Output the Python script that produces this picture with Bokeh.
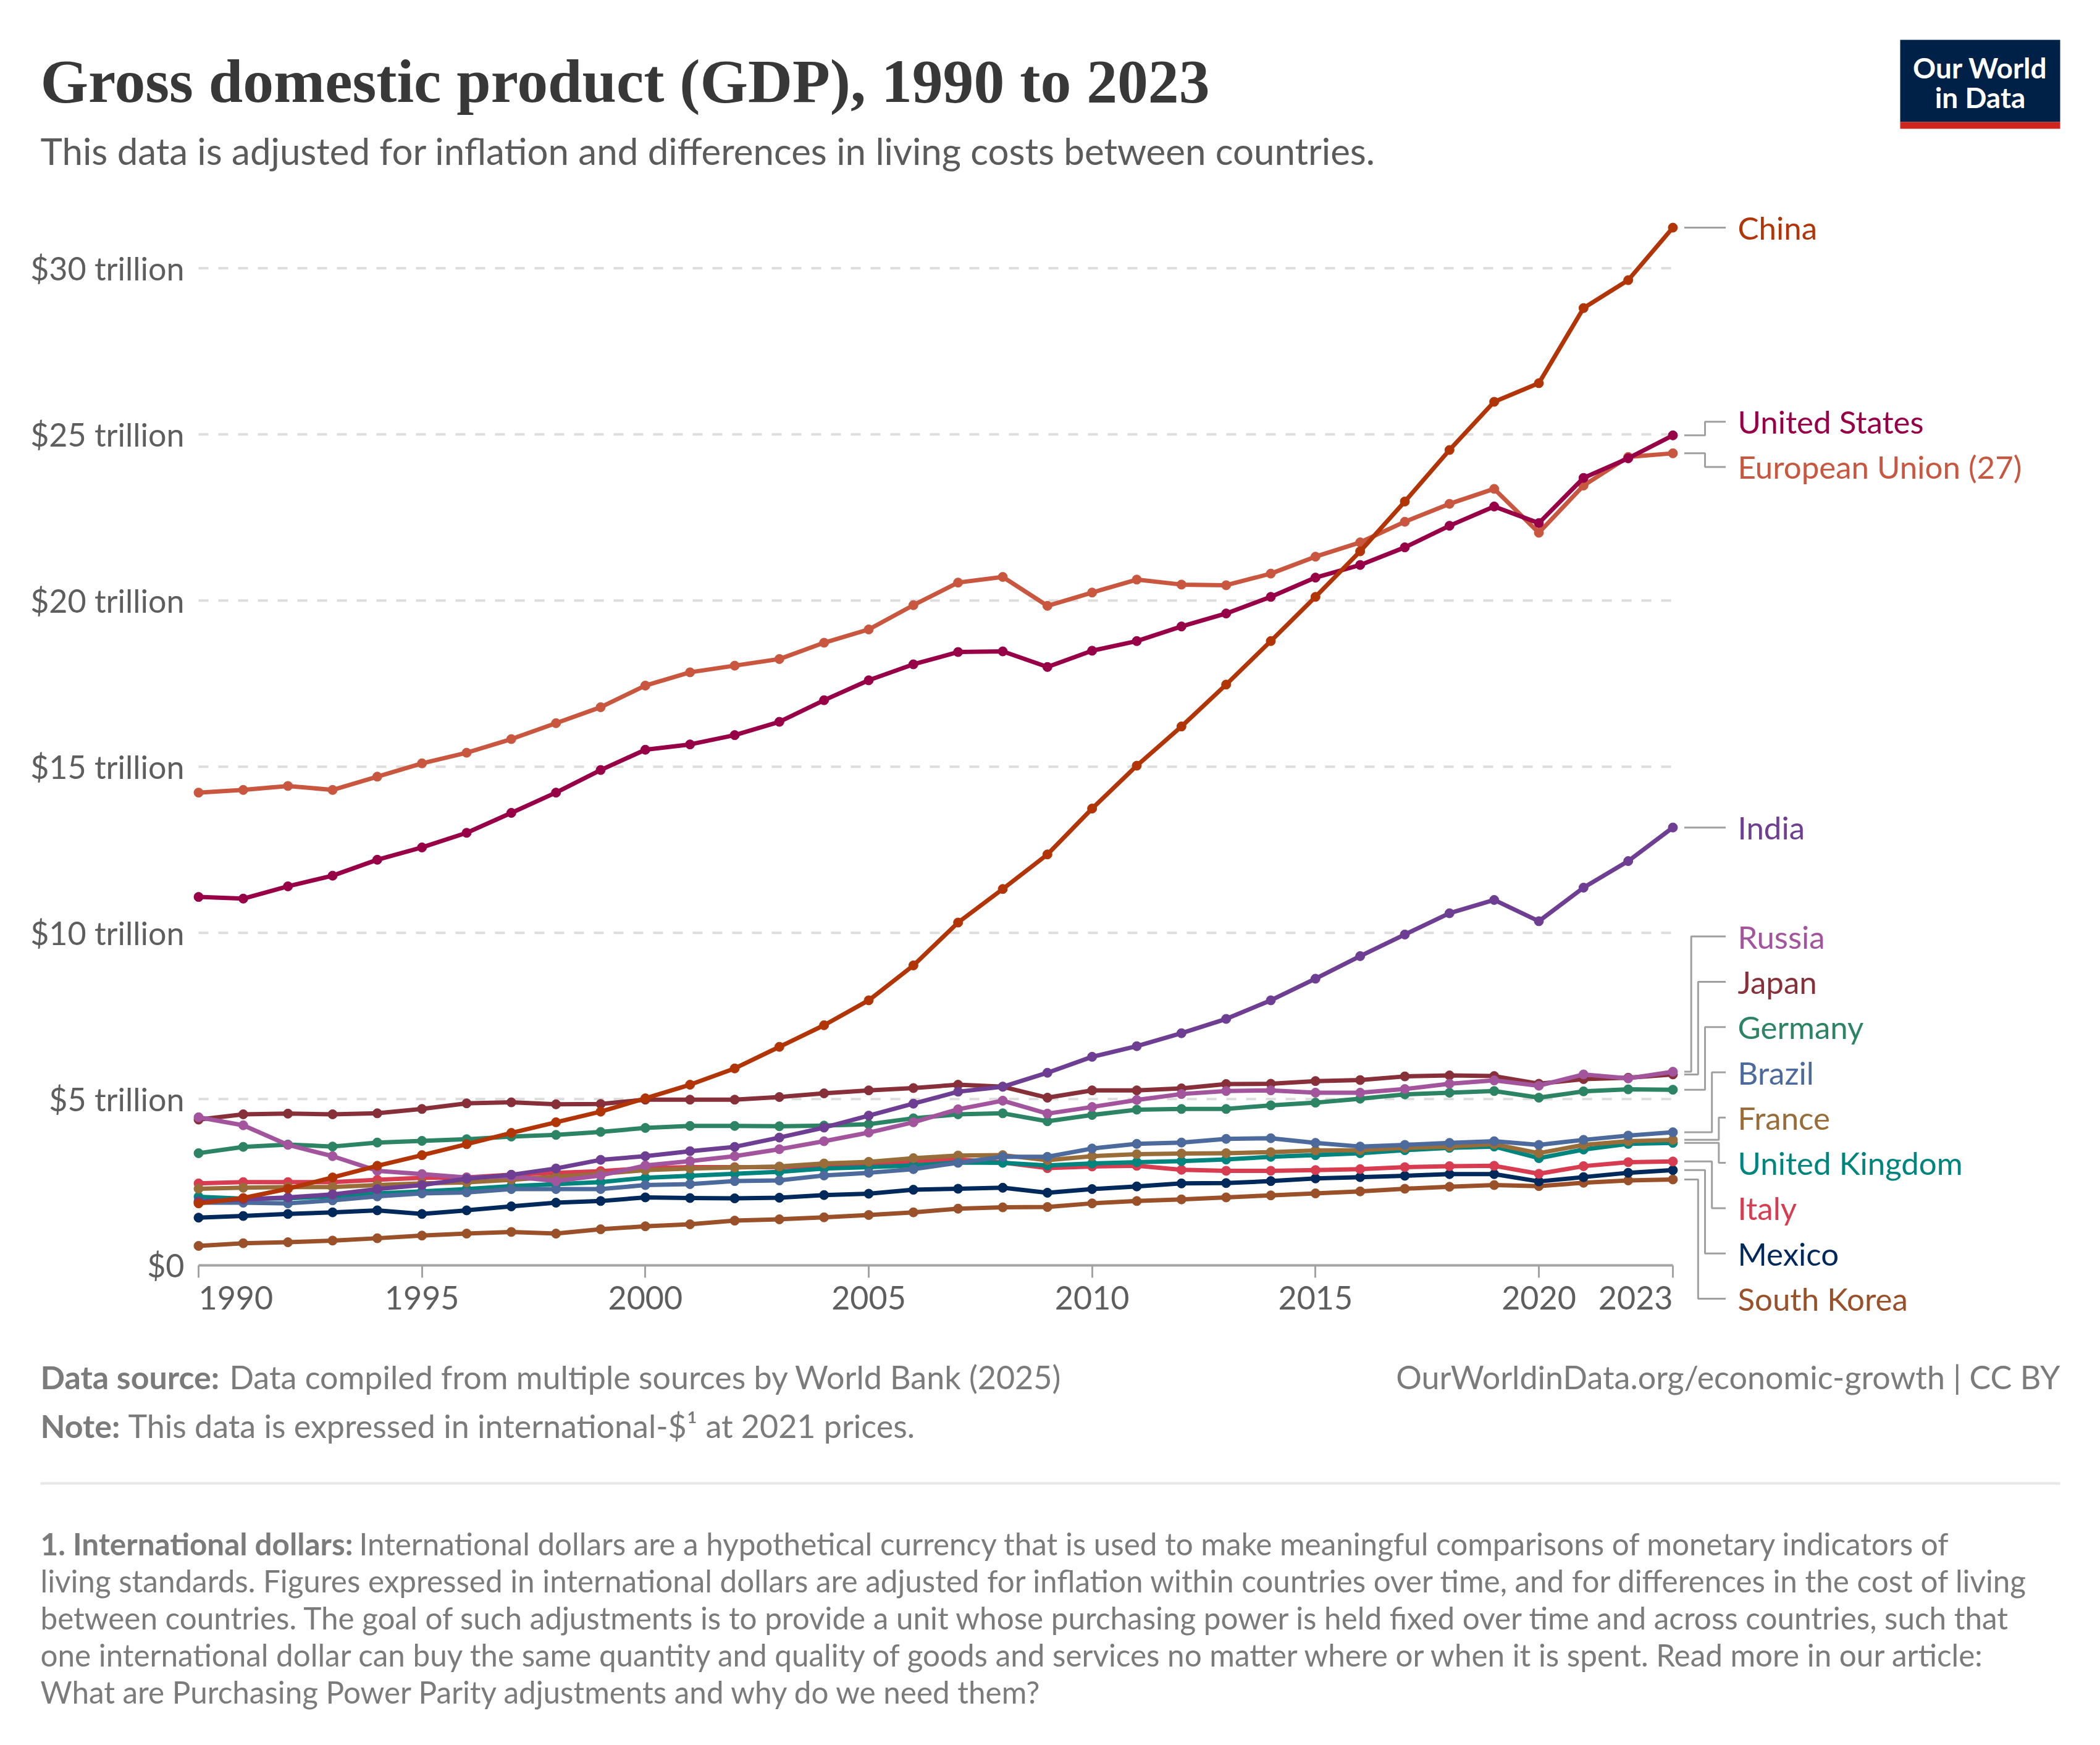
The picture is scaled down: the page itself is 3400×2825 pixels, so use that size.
from bokeh.plotting import figure
from bokeh.models import Range1d, FixedTicker, ColumnDataSource
from bokeh.core.properties import value
from bokeh.embed import file_html
from bokeh.resources import INLINE

# ---------------- data (trillion international-$, 2021 prices) ----------------
YEARS = list(range(1990, 2024))

CHINA = [1.86, 2.02, 2.30, 2.64, 2.99, 3.31, 3.64, 3.98, 4.30, 4.62,
         5.02, 5.43, 5.92, 6.57, 7.22, 7.97, 9.02, 10.31, 11.32, 12.36,
         13.74, 15.03, 16.21, 17.47, 18.78, 20.11, 21.48, 22.98, 24.53, 25.98,
         26.54, 28.80, 29.64, 31.22]
USA = [11.08, 11.03, 11.40, 11.72, 12.20, 12.57, 13.01, 13.61, 14.22, 14.90,
       15.51, 15.67, 15.95, 16.35, 17.00, 17.60, 18.08, 18.45, 18.47, 18.00,
       18.49, 18.78, 19.22, 19.61, 20.11, 20.69, 21.07, 21.60, 22.25, 22.83,
       22.33, 23.69, 24.28, 24.97]
EU27 = [14.22, 14.30, 14.42, 14.30, 14.70, 15.10, 15.42, 15.83, 16.31, 16.79,
        17.44, 17.84, 18.04, 18.24, 18.73, 19.13, 19.86, 20.54, 20.71, 19.84,
        20.24, 20.63, 20.48, 20.46, 20.81, 21.32, 21.75, 22.37, 22.91, 23.36,
        22.04, 23.46, 24.32, 24.43]
INDIA = [1.92, 1.98, 2.04, 2.13, 2.29, 2.41, 2.60, 2.72, 2.91, 3.17,
         3.28, 3.43, 3.56, 3.84, 4.14, 4.50, 4.86, 5.22, 5.37, 5.79,
         6.27, 6.59, 6.98, 7.41, 7.97, 8.62, 9.30, 9.95, 10.59, 10.99,
         10.35, 11.36, 12.16, 13.17]
RUSSIA = [4.45, 4.21, 3.62, 3.28, 2.84, 2.74, 2.64, 2.67, 2.53, 2.70,
          3.00, 3.13, 3.28, 3.49, 3.73, 3.99, 4.30, 4.69, 4.95, 4.56,
          4.76, 4.97, 5.15, 5.24, 5.26, 5.19, 5.19, 5.30, 5.46, 5.56,
          5.40, 5.74, 5.62, 5.82]
JAPAN = [4.38, 4.54, 4.56, 4.54, 4.57, 4.70, 4.87, 4.90, 4.84, 4.85,
         4.98, 4.98, 4.98, 5.06, 5.17, 5.26, 5.33, 5.43, 5.37, 5.04,
         5.26, 5.26, 5.32, 5.45, 5.46, 5.54, 5.57, 5.68, 5.71, 5.69,
         5.46, 5.60, 5.64, 5.74]
GERMANY = [3.37, 3.56, 3.63, 3.57, 3.69, 3.74, 3.79, 3.87, 3.92, 4.01,
           4.13, 4.19, 4.19, 4.18, 4.20, 4.24, 4.42, 4.54, 4.57, 4.33,
           4.52, 4.68, 4.70, 4.70, 4.81, 4.89, 5.01, 5.14, 5.19, 5.24,
           5.04, 5.23, 5.29, 5.28]
BRAZIL = [1.88, 1.88, 1.86, 1.95, 2.07, 2.16, 2.19, 2.29, 2.29, 2.29,
          2.41, 2.44, 2.53, 2.55, 2.70, 2.78, 2.89, 3.08, 3.26, 3.26,
          3.51, 3.65, 3.69, 3.80, 3.82, 3.68, 3.57, 3.62, 3.68, 3.73,
          3.62, 3.77, 3.90, 4.00]
FRANCE = [2.30, 2.33, 2.35, 2.35, 2.41, 2.46, 2.49, 2.57, 2.66, 2.75,
          2.86, 2.91, 2.94, 2.97, 3.06, 3.11, 3.22, 3.30, 3.31, 3.16,
          3.28, 3.34, 3.36, 3.37, 3.40, 3.45, 3.46, 3.53, 3.57, 3.64,
          3.37, 3.62, 3.73, 3.77]
UK = [2.06, 2.00, 2.01, 2.07, 2.16, 2.22, 2.29, 2.38, 2.44, 2.50,
      2.63, 2.69, 2.75, 2.81, 2.91, 2.95, 3.00, 3.09, 3.08, 3.00,
      3.06, 3.10, 3.13, 3.18, 3.26, 3.31, 3.37, 3.46, 3.53, 3.57,
      3.22, 3.48, 3.65, 3.68]
ITALY = [2.46, 2.50, 2.50, 2.50, 2.57, 2.63, 2.64, 2.72, 2.78, 2.83,
         2.92, 2.95, 2.95, 2.95, 2.97, 3.02, 3.11, 3.18, 3.09, 2.92,
         2.97, 2.99, 2.87, 2.84, 2.84, 2.86, 2.89, 2.95, 2.98, 2.99,
         2.75, 2.98, 3.10, 3.12]
MEXICO = [1.43, 1.48, 1.54, 1.59, 1.65, 1.54, 1.65, 1.77, 1.88, 1.93,
          2.04, 2.02, 2.01, 2.03, 2.11, 2.15, 2.27, 2.30, 2.33, 2.18,
          2.29, 2.37, 2.46, 2.47, 2.53, 2.61, 2.65, 2.69, 2.74, 2.74,
          2.52, 2.65, 2.78, 2.86]
SKOREA = [0.58, 0.66, 0.69, 0.74, 0.81, 0.89, 0.95, 1.00, 0.95, 1.08,
          1.17, 1.23, 1.34, 1.38, 1.44, 1.51, 1.59, 1.70, 1.74, 1.75,
          1.86, 1.93, 1.98, 2.04, 2.10, 2.16, 2.22, 2.30, 2.36, 2.41,
          2.38, 2.48, 2.55, 2.58]

NAMES = ["China", "United States", "European Union (27)", "India", "Russia",
         "Japan", "Germany", "Brazil", "France", "United Kingdom", "Italy",
         "Mexico", "South Korea"]
VALUES = [CHINA, USA, EU27, INDIA, RUSSIA, JAPAN, GERMANY, BRAZIL, FRANCE,
          UK, ITALY, MEXICO, SKOREA]
COLORS = ["#b13507", "#970046", "#c9573f", "#6d3e91", "#a2559c", "#883039",
          "#2c8465", "#4c6a9c", "#996d39", "#00847e", "#d73c50", "#00295b",
          "#9a5129"]

Y_TICKS = [0, 5, 10, 15, 20, 25, 30]
Y_TICK_LABELS = ["$0", "$5 trillion", "$10 trillion", "$15 trillion",
                 "$20 trillion", "$25 trillion", "$30 trillion"]
X_TICKS = [1990, 1995, 2000, 2005, 2010, 2015, 2020, 2023]
X_TICK_LABELS = ["1990", "1995", "2000", "2005", "2010", "2015", "2020", "2023"]

TITLE = "Gross domestic product (GDP), 1990 to 2023"
SUBTITLE = "This data is adjusted for inflation and differences in living costs between countries."
SOURCE_B = "Data source:"
SOURCE = "Data compiled from multiple sources by World Bank (2025)"
URL = "OurWorldinData.org/economic-growth | CC BY"
NOTE_B = "Note:"
NOTE = "This data is expressed in international-$\u00b9 at 2021 prices."
FOOT_B = "1. International dollars:"
FOOT_LINES = [
    "International dollars are a hypothetical currency that is used to make meaningful comparisons of monetary indicators of",
    "living standards. Figures expressed in international dollars are adjusted for inflation within countries over time, and for differences in the cost of living",
    "between countries. The goal of such adjustments is to provide a unit whose purchasing power is held fixed over time and across countries, such that",
    "one international dollar can buy the same quantity and quality of goods and services no matter where or when it is spent. Read more in our article:",
    "What are Purchasing Power Parity adjustments and why do we need them?",
]

# ---------------- geometry (frame spans the whole canvas) ----------------
W, H = 3400, 2825
PX_X0 = 321.0          # pixel of first year
PX_PER_YEAR = 72.333
PX_ZERO = 2047.7       # pixel of $0
PX_PER_T = 53.8
PLOT_LEFT_PX = 300     # where y tick labels end


def X(px):
    return YEARS[0] + (px - PX_X0) / PX_PER_YEAR


def Y(py):
    return (PX_ZERO - py) / PX_PER_T


GREY_TXT = "#5e5e5e"
FOOT_COL = "#7b7b7b"
LATO = "Lato"

p = figure(width=W, height=H,
           x_range=Range1d(X(0), X(W)),
           y_range=Range1d(Y(H), Y(0)),
           output_backend="svg", toolbar_location=None,
           min_border=0, min_border_left=0, min_border_right=0,
           min_border_top=0, min_border_bottom=0)
p.outline_line_color = None
p.background_fill_color = "white"
p.border_fill_color = "white"
p.xgrid.visible = False
p.ygrid.visible = False

# y axis: labels only, fixed just left of the plotting area
yax = p.yaxis[0]
yax.ticker = FixedTicker(ticks=Y_TICKS)
yax.fixed_location = X(PLOT_LEFT_PX)
yax.major_label_overrides = {t: s for t, s in zip(Y_TICKS, Y_TICK_LABELS)}
yax.axis_line_color = None
yax.major_tick_line_color = None
yax.minor_tick_line_color = None
yax.major_tick_out = 0
yax.major_tick_in = 0
yax.major_label_standoff = 2
yax.major_label_text_font = LATO
yax.major_label_text_font_size = "52px"
yax.major_label_text_color = GREY_TXT

# x axis at $0, spanning first..last year
xax = p.xaxis[0]
xax.ticker = FixedTicker(ticks=X_TICKS)
xax.fixed_location = 0
xax.bounds = (YEARS[0], YEARS[-1])
xax.axis_line_color = "#a3a3a3"
xax.axis_line_width = 4
xax.major_tick_line_color = "#a3a3a3"
xax.major_tick_line_width = 3
xax.major_tick_out = 20
xax.major_tick_in = 0
xax.minor_tick_line_color = None
xax.major_label_standoff = 14
xax.major_label_text_font = LATO
xax.major_label_text_font_size = "52px"
xax.major_label_text_color = GREY_TXT
overrides = {t: s for t, s in zip(X_TICKS, X_TICK_LABELS)}
overrides[X_TICKS[0]] = ""
overrides[X_TICKS[-1]] = ""
xax.major_label_overrides = overrides

# edge tick labels aligned inward
lab_top = Y(PX_ZERO + 20 + 14)
p.text(x=[X_TICKS[0]], y=[lab_top], text=[X_TICK_LABELS[0]], text_align="left",
       text_baseline="top", text_font=value(LATO), text_font_size="52px",
       text_color=GREY_TXT)
p.text(x=[X_TICKS[-1]], y=[lab_top], text=[X_TICK_LABELS[-1]], text_align="right",
       text_baseline="top", text_font=value(LATO), text_font_size="52px",
       text_color=GREY_TXT)

# dashed horizontal grid lines between first and last year
grid_vals = Y_TICKS[1:]
p.segment(x0=[YEARS[0]] * len(grid_vals), x1=[YEARS[-1]] * len(grid_vals),
          y0=grid_vals, y1=grid_vals, line_color="#dddddd", line_width=4,
          line_dash="16 16")

# series
for name, vals, col in reversed(list(zip(NAMES, VALUES, COLORS))):
    p.line(YEARS, vals, line_color=col, line_width=7, line_join="round",
           line_cap="round")
    p.scatter(YEARS, vals, size=15, marker="circle", fill_color=col,
              line_color=col, line_width=1)

# ---------------- end labels with collision avoidance ----------------
GAP = 73.3 / PX_PER_T
LO = Y(2102)
n = len(NAMES)
ends = [VALUES[i][-1] for i in range(n)]
order = sorted(range(n), key=lambda i: -ends[i])


def cluster_top(cl):
    k = len(cl)
    c = sum(ends[i] for i in cl) / k
    return max(c + (k - 1) * GAP / 2, LO + (k - 1) * GAP)


clusters = [[i] for i in order]
merged = True
while merged:
    merged = False
    for k in range(len(clusters) - 1):
        a, b = clusters[k], clusters[k + 1]
        if cluster_top(a) - (len(a) - 1) * GAP - cluster_top(b) < GAP - 1e-9:
            clusters[k] = a + b
            del clusters[k + 1]
            merged = True
            break

label_y = {}
for cl in clusters:
    t = cluster_top(cl)
    for j, i in enumerate(cl):
        label_y[i] = t - j * GAP

CX0, CX1, LX = X(2726.5), X(2793.5), X(2813)
xs, ys = [], []
for cl in clusters:
    ups = [i for i in cl if label_y[i] - ends[i] > 1e-6]
    downs = [i for i in cl if ends[i] - label_y[i] > 1e-6]
    kmax = max(len(ups), len(downs), 1)
    dx = (CX1 - CX0) / (kmax + 1)
    step = {}
    for j, i in enumerate(reversed(ups)):
        step[i] = CX0 + (kmax - j) * dx
    for j, i in enumerate(downs):
        step[i] = CX0 + (kmax - j) * dx
    for i in cl:
        if i in step:
            xs.append([CX0, step[i], step[i], CX1])
            ys.append([ends[i], ends[i], label_y[i], label_y[i]])
        else:
            xs.append([CX0, CX1])
            ys.append([ends[i], ends[i]])

p.multi_line(xs=xs, ys=ys, line_color="#a0a0a0", line_width=3)

lab_src = ColumnDataSource(dict(x=[LX] * n, y=[label_y[i] for i in range(n)],
                                text=NAMES, color=COLORS))
p.text(x="x", y="y", text="text", text_color="color", source=lab_src,
       text_align="left", text_baseline="middle", text_font=value(LATO),
       text_font_size="51px")

# ---------------- header / footer ----------------
# logo boxes and separator
p.quad(left=[X(3076)], right=[X(3335)], top=[Y(64)], bottom=[Y(197)],
       fill_color="#002147", line_color=None)
p.quad(left=[X(3076)], right=[X(3335)], top=[Y(197)], bottom=[Y(208)],
       fill_color="#ce261e", line_color=None)
p.quad(left=[X(65)], right=[X(3335)], top=[Y(2399)], bottom=[Y(2403)],
       fill_color="#e6e6e6", line_color=None)


def add_text(px, base_py, text, size, color, font=LATO, bold=False,
             align="left", cap=0.72, nudge=4):
    # place the visual middle of capitals relative to the given baseline
    mid = base_py - cap * size / 2 + nudge
    kw = dict(x=[X(px)], y=[Y(mid)], text=[text], text_font=value(font),
              text_font_size=f"{size}px", text_color=color,
              text_align=align, text_baseline="middle", level="overlay")
    if bold:
        kw["text_font_style"] = "bold"
    p.text(**kw)


# normal-weight texts
add_text(65, 261, SUBTITLE, 60, "#5b5b5b")
add_text(371, 2243, SOURCE, 52, FOOT_COL)
add_text(3335, 2243, URL, 52, FOOT_COL, align="right")
add_text(207, 2322, NOTE, 52, FOOT_COL)
for k, line in enumerate(FOOT_LINES):
    add_text(581 if k == 0 else 65, 2512 + 60 * k, line, 49.4, FOOT_COL)

# bold texts
add_text(65, 2243, SOURCE_B, 52, FOOT_COL, bold=True)
add_text(65, 2322, NOTE_B, 52, FOOT_COL, bold=True)
add_text(65, 2512, FOOT_B, 49.4, FOOT_COL, bold=True)
add_text(3205.5, 122, "Our World", 46, "white", bold=True, align="center")
add_text(3205.5, 170, "in Data", 46, "white", bold=True, align="center")

# title (serif); size kept off "N00px", which the SVG font parser misreads
add_text(65, 162, TITLE, 99.7, "#383838", font="Liberation Serif", bold=True,
         cap=0.66, nudge=2)

with open("out.html", "w") as f:
    f.write(file_html(p, INLINE))
